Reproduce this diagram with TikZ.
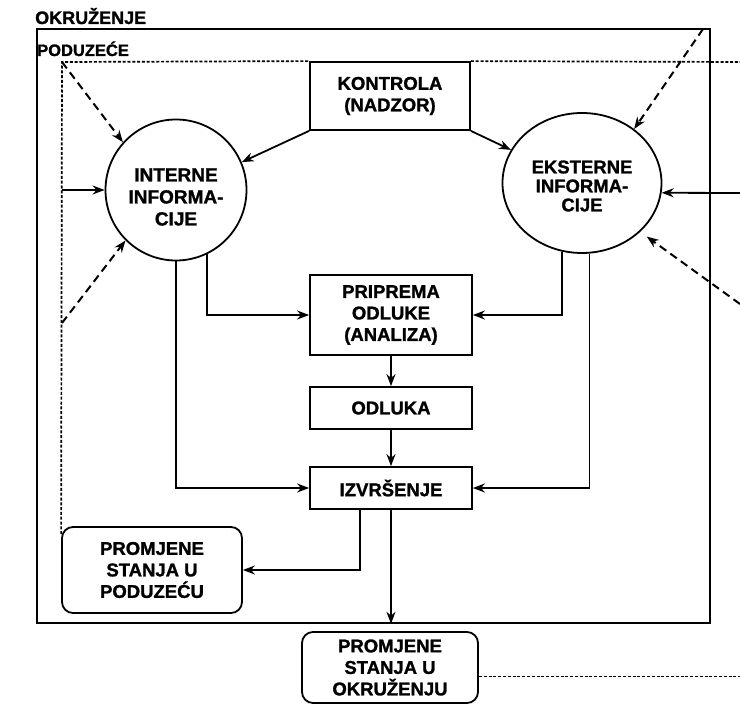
\documentclass[tikz,border=0pt]{standalone}
\usepackage{fontspec}
\setmainfont{Liberation Sans}[BoldFeatures={FakeBold=1.3}]
\usetikzlibrary{arrows.meta,shapes.geometric}
\begin{document}
\begin{tikzpicture}[x=1pt,y=-1pt,
  lbl/.style={inner sep=0pt, anchor=base west, font=\fontsize{17}{20}\selectfont\bfseries},
  box/.style={draw, fill=white, line width=1.8pt, inner sep=0pt, align=center,
    font=\fontsize{18.5}{21.5}\selectfont\bfseries},
  rbox/.style={box, rounded corners=11pt},
  circ/.style={draw, line width=1.8pt, circle, inner sep=0pt, minimum size=141pt},
  ell/.style={draw, line width=1.8pt, ellipse, inner sep=0pt, minimum width=159pt, minimum height=140pt},
  ctext/.style={inner sep=0pt, align=center},
  arr/.style={line width=1.8pt, -{Stealth[length=12pt,width=9pt]}},
  darr/.style={arr, line width=2pt, dash pattern=on 8pt off 5pt},
  dotline/.style={line width=1.7pt, dash pattern=on 3pt off 1.8pt},
]
\useasboundingbox (0,0) rectangle (740,706);

% outer frame (PODUZECE)
\node[draw, line width=1.6pt, inner sep=0pt, minimum width=673pt, minimum height=594pt] (podu) at (373.5,326) {};
\node[lbl, font=\fontsize{18}{20}\selectfont\bfseries] (okrl) at (35,24) {OKRUŽENJE};
\node[lbl, font=\fontsize{16.5}{20}\selectfont\bfseries] (podl) at (37,56) {PODUZEĆE};

% boxes
\node[box, minimum width=160pt, minimum height=68pt] (kon) at (390,96) {KONTROLA\\(NADZOR)};
\node[box, minimum width=162pt, minimum height=80pt] (pri) at (391,315) {PRIPREMA\\ODLUKE\\(ANALIZA)};
\node[box, minimum width=162pt, minimum height=42pt] (odl) at (391,408) {ODLUKA};
\node[box, minimum width=162pt, minimum height=42pt] (izv) at (391,488) {IZVRŠENJE};
\node[rbox, minimum width=180pt, minimum height=86pt] (pp) at (152,570) {PROMJENE\\STANJA U\\PODUZEĆU};
\node[rbox, minimum width=176pt, minimum height=71pt] (po) at (390,667.5) {PROMJENE\\STANJA U\\OKRUŽENJU};

% information circles
\node[circ] (int) at (176,190) {};
\node[ctext, font=\fontsize{19}{22}\selectfont\bfseries] (intt) at (176,197) {INTERNE\\INFORMA-\\CIJE};
\node[ell] (ext) at (582,183) {};
\node[ctext, font=\fontsize{18.5}{19}\selectfont\bfseries] (extt) at (582,186) {EKSTERNE\\INFORMA-\\CIJE};

% free ends
\coordinate (c1) at (62,62);
\coordinate (cR) at (740,62);
\coordinate (cL) at (62,323);
\coordinate (cTR) at (703,29);
\coordinate (cE) at (740,193);
\coordinate (cBR) at (740,304);
\coordinate (cB) at (740,676.5);

% dotted boundary lines
\draw[dotline] ([yshift=-8pt]pp.north west) -- (c1) -- (kon.north west);
\draw[dotline] (kon.north east) -- (cR);
\draw[dotline] ([yshift=-9pt]po.east) -- (cB);

% into INTERNE INFORMACIJE
\draw[darr] (c1) -- (int.138);
\draw[darr] (cL) -- (int.225);
\draw[arr] (c1 |- int.west) -- (int.west);
\draw[arr] (kon.south west) -- (int.23);

% into EKSTERNE INFORMACIJE
\draw[arr] (kon.south east) -- (ext.155);
\draw[darr] (cTR) -- (ext.46);
\draw[arr] (cE) -- (ext.-7);
\draw[darr, shorten >=8pt] (cBR) -- (ext.-40);

% from circles to process boxes
\draw[arr] (int.-64) |- (pri.west);
\draw[arr] (int.south) |- (izv.west);
\draw[arr] (ext.254) |- (pri.east);
\draw[arr] (ext.-84) |- (izv.east);

% process chain
\draw[arr] (pri.south) -- (odl.north);
\draw[arr] (odl.south) -- (izv.north);
\draw[arr] ([xshift=-31pt]izv.south) |- (pp.east);
\draw[arr] (izv.south) -- (izv.south |- podu.south);
\end{tikzpicture}
\end{document}
